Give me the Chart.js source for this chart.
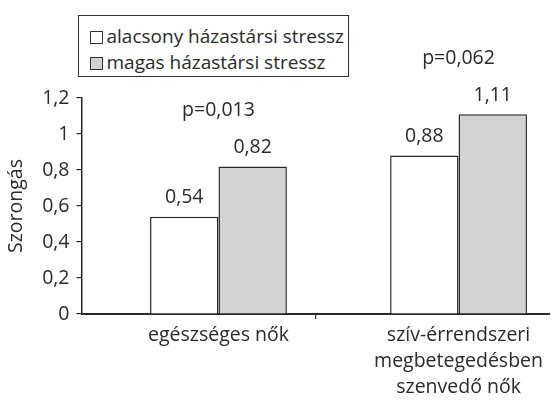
<!DOCTYPE html>
<html lang="hu">
<head>
  <meta charset="UTF-8" />
  <title>Szorongás – házastársi stressz</title>
  <script src="https://cdn.jsdelivr.net/npm/chart.js"></script>
  <style>
    html, body {
      margin: 0;
      padding: 0;
      background: #fff;
      overflow: hidden;
    }
    #wrap {
      position: relative;
      width: 551px;
      height: 416px;
    }
    #legend {
      position: absolute;
      left: 78px;
      top: 15px;
      width: 269px;
      height: 60px;
      border: 1.5px solid #333;
      font-family: 'Open Sans', sans-serif;
      font-size: 19px;
      color: #2a2a2a;
      background: #fff;
    }
    .item {
      position: absolute;
      left: 10.5px;
      height: 26px;
      line-height: 26px;
      white-space: nowrap;
    }
    .swatch {
      display: inline-block;
      width: 11px;
      height: 11px;
      border: 1.2px solid #333;
      vertical-align: -1px;
      margin-right: 4px;
    }
  </style>
</head>
<body>
  <div id="wrap">
    <canvas id="chart"></canvas>
    <div id="legend"></div>
  </div>

  <script>
    // data
    const categories = ['egészséges nők', ['szív-érrendszeri', 'megbetegedésben', 'szenvedő nők']];
    const seriesNames = ['alacsony házastársi stressz', 'magas házastársi stressz'];
    const lowStress = [0.54, 0.88];
    const highStress = [0.82, 1.11];
    const pLabels = ['p=0,013', 'p=0,062'];
    const yTicks = [0, 0.2, 0.4, 0.6, 0.8, 1, 1.2];

    const ink = '#2a2a2a';
    const font = { family: "'Open Sans', sans-serif", size: 19.5 };
    const fmt = v => String(v).replace('.', ',');

    // value labels above bars + p values above each group
    const labelPlugin = {
      id: 'barLabels',
      afterDatasetsDraw(chart) {
        const ctx = chart.ctx;
        const metas = chart.data.datasets.map((d, i) => chart.getDatasetMeta(i));
        ctx.save();
        ctx.font = "19.5px 'Open Sans', sans-serif";
        ctx.fillStyle = ink;
        ctx.textAlign = 'center';
        ctx.textBaseline = 'middle';
        metas.forEach((meta, di) => {
          meta.data.forEach((bar, i) => {
            ctx.fillText(fmt(chart.data.datasets[di].data[i].y), bar.x, bar.y - 19);
          });
        });
        categories.forEach((c, i) => {
          const top = Math.min(...metas.map(m => m.data[i].y));
          ctx.fillText(pLabels[i], chart.scales.x.getPixelForValue(i + 1), top - 56);
        });
        ctx.restore();
      }
    };

    const chart = new Chart(document.getElementById('chart'), {
      type: 'bar',
      data: {
        datasets: [
          {
            label: seriesNames[0],
            data: lowStress.map((y, i) => ({ x: i + 1, y })),
            backgroundColor: '#ffffff',
            borderColor: ink,
            borderWidth: 1.5
          },
          {
            label: seriesNames[1],
            data: highStress.map((y, i) => ({ x: i + 1, y })),
            backgroundColor: '#d3d3d3',
            borderColor: ink,
            borderWidth: 1.5
          }
        ]
      },
      options: {
        responsive: true,
        maintainAspectRatio: false,
        animation: false,
        categoryPercentage: 0.57,
        barPercentage: 1,
        layout: { padding: { top: 98, right: 0, bottom: 0, left: 0 } },
        plugins: {
          legend: { display: false },
          tooltip: { enabled: false }
        },
        scales: {
          x: {
            type: 'linear',
            min: 0.4295,
            max: 2.378,
            offset: false,
            afterBuildTicks: axis => { axis.ticks = categories.map((c, i) => ({ value: i + 1 })); },
            afterFit: axis => { axis.height = 102; },
            ticks: {
              callback: (v, i) => categories[i],
              autoSkip: false,
              maxRotation: 0,
              color: ink,
              font: { ...font, lineHeight: 26 / 19.5 },
              padding: 8
            },
            grid: { display: true, drawOnChartArea: false, drawTicks: false, offset: false },
            border: { display: true, color: ink, width: 2 }
          },
          // category boundaries: only the separator tick under the axis
          x2: {
            type: 'category',
            labels: categories,
            position: { y: 0 },
            offset: true,
            ticks: { display: false },
            grid: {
              offset: true,
              drawOnChartArea: false,
              drawTicks: true,
              tickLength: 5,
              lineWidth: 1.2,
              color: ctx => (ctx.index === 1 ? ink : 'rgba(0,0,0,0)')
            },
            border: { display: false }
          },
          y: {
            min: 0,
            max: 1.2,
            afterBuildTicks: axis => { axis.ticks = yTicks.map(v => ({ value: v })); },
            afterFit: axis => { axis.width = 81.5; },
            ticks: {
              callback: v => fmt(Number(v.toFixed(1))),
              color: ink,
              font,
              padding: 7
            },
            grid: { drawOnChartArea: false, drawTicks: true, tickLength: 5, color: ink, lineWidth: 1.2 },
            border: { display: true, color: ink, width: 1.5 },
            title: {
              display: true,
              text: 'Szorongás',
              color: ink,
              font,
              padding: { top: 5, bottom: 0 }
            }
          }
        }
      },
      plugins: [labelPlugin]
    });

    // HTML legend built from the datasets
    const legend = document.getElementById('legend');
    chart.data.datasets.forEach((ds, i) => {
      const item = document.createElement('div');
      item.className = 'item';
      item.style.top = (6.5 + i * 26) + 'px';
      item.innerHTML = '<span class="swatch" style="background:' + ds.backgroundColor + '"></span>' + ds.label;
      legend.appendChild(item);
    });
  </script>
</body>
</html>
